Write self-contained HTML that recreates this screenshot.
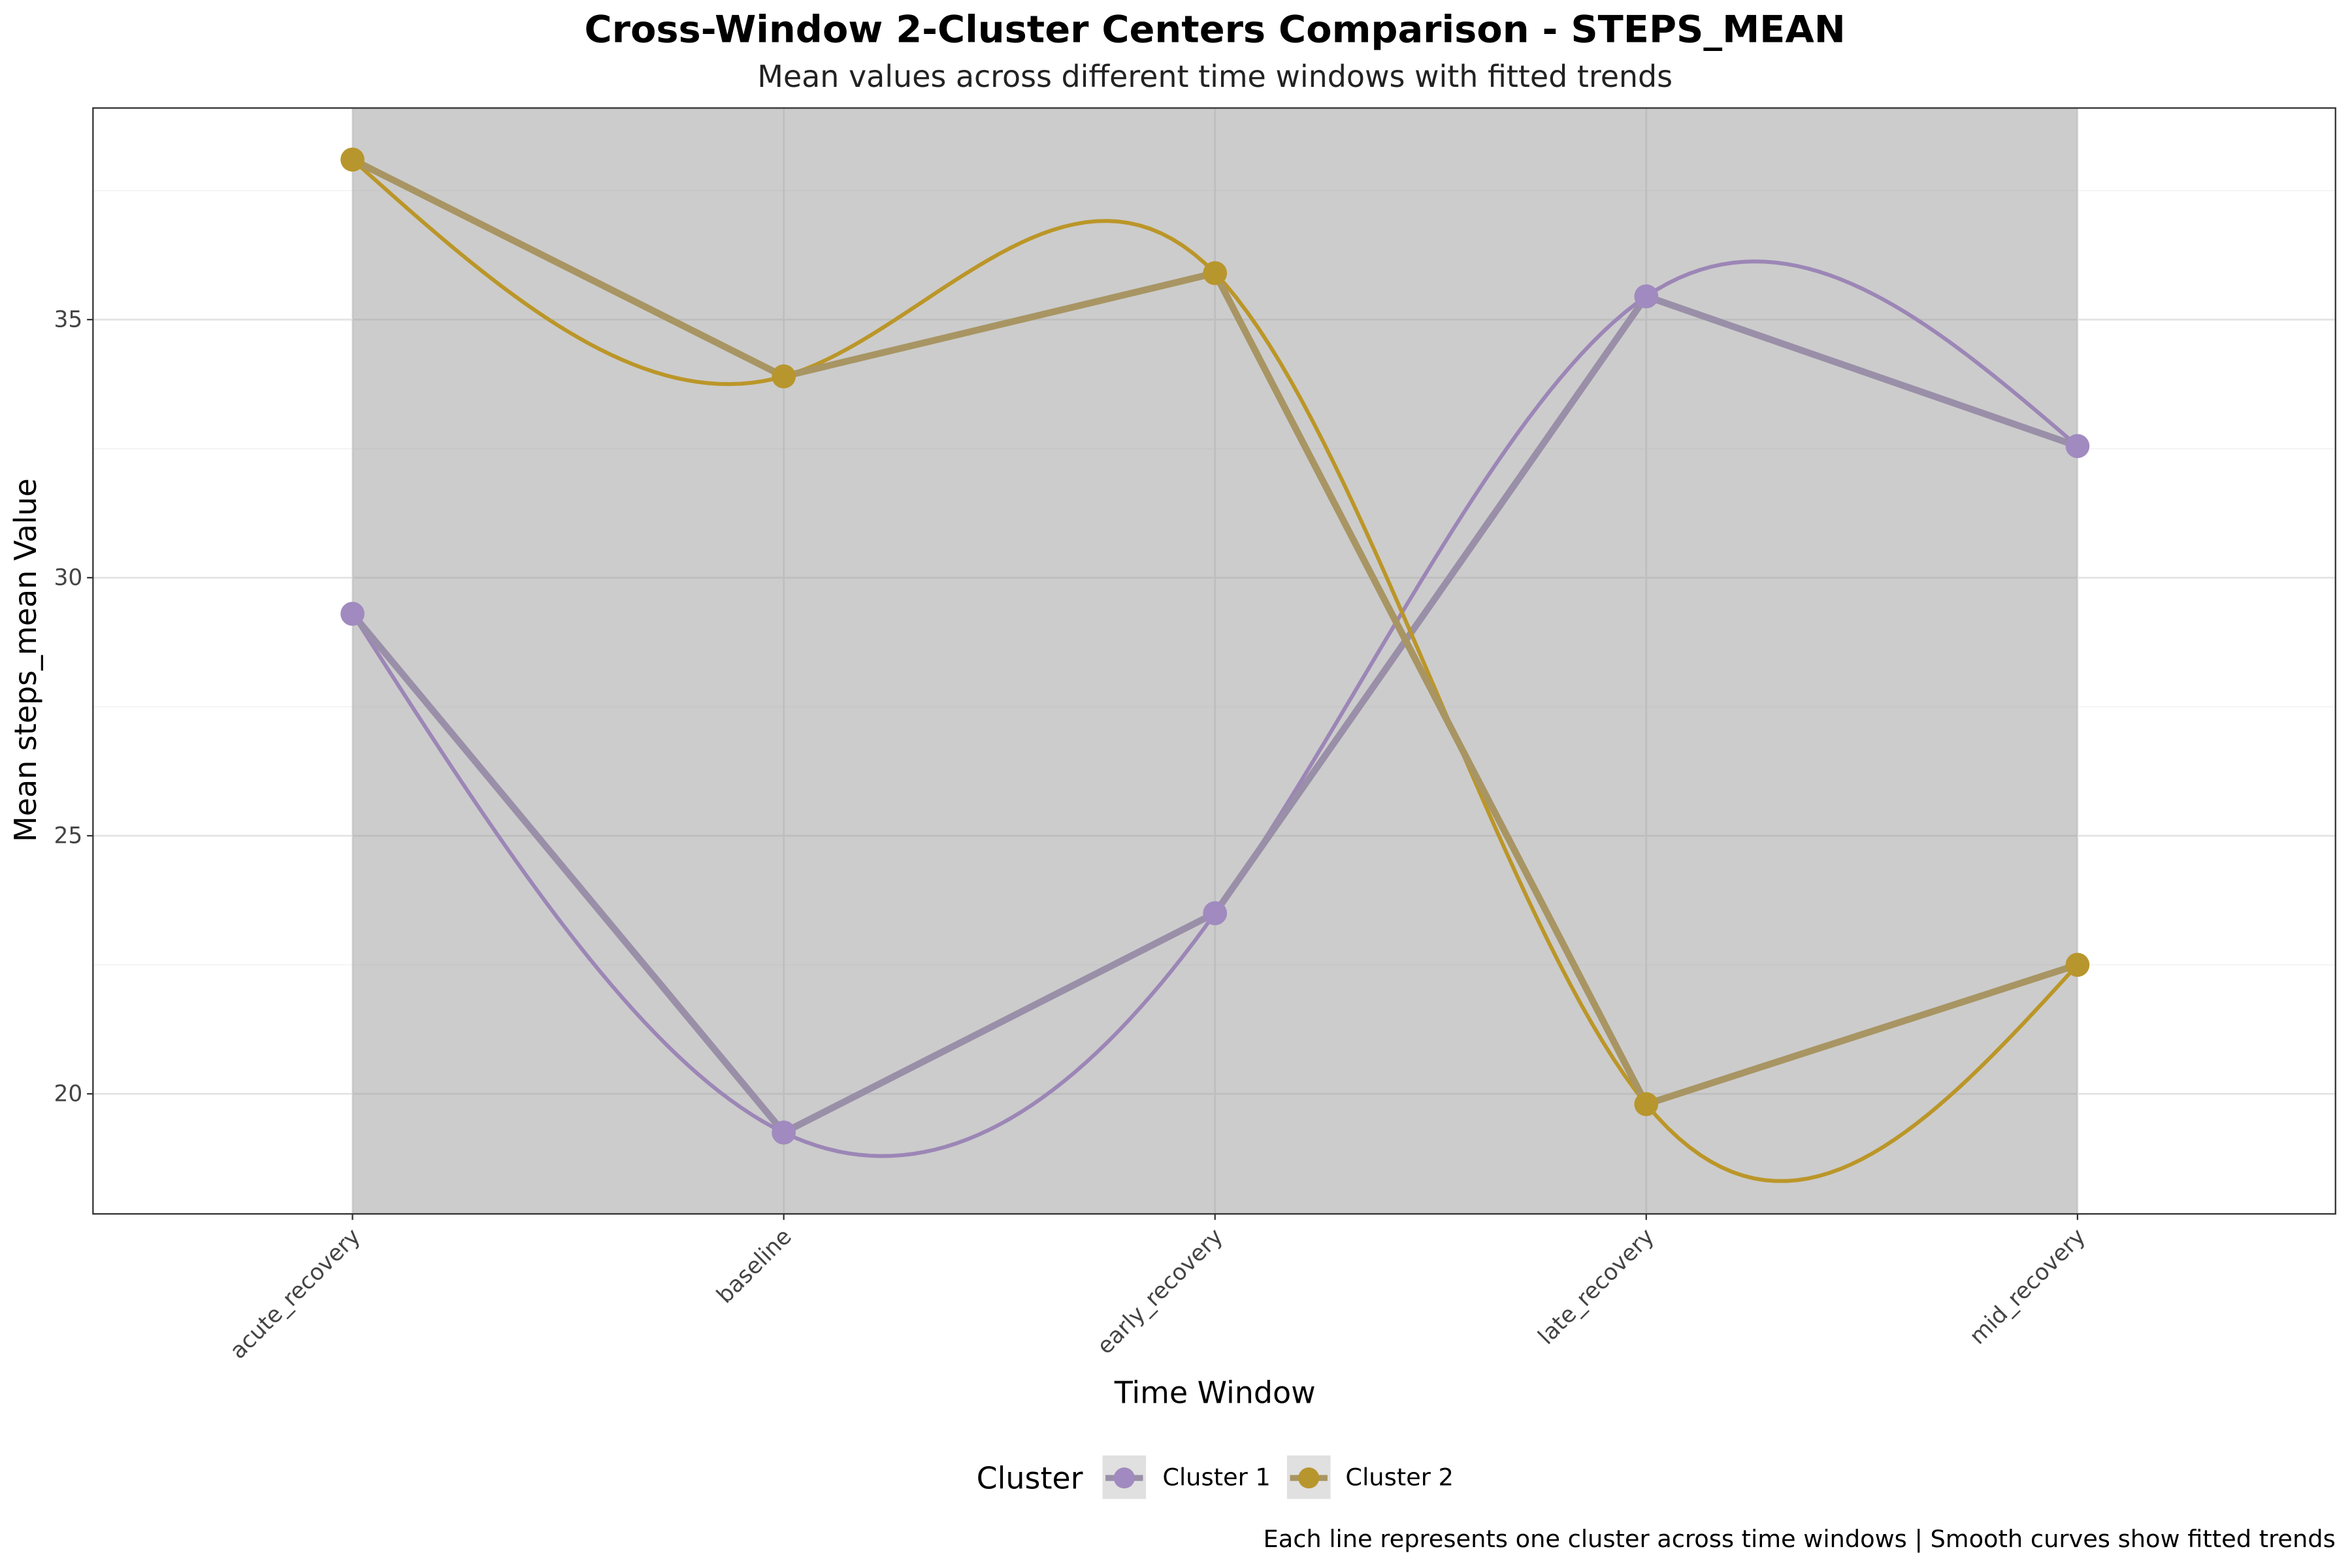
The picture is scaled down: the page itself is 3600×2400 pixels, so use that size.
<!DOCTYPE html>
<html><head><meta charset="utf-8"><style>
html,body{margin:0;padding:0;background:#fff;}
svg{display:block;font-family:"DejaVu Sans","Liberation Sans",sans-serif;}
</style></head><body>
<svg id="chart" width="3600" height="2400" viewBox="0 0 1568 1045" preserveAspectRatio="none" xmlns="http://www.w3.org/2000/svg">
<rect x="0" y="0" width="1568" height="1045" fill="#fff"/>
<text x="810" y="28" text-anchor="middle" font-size="25" font-weight="bold" fill="#000">Cross-Window 2-Cluster Centers Comparison - STEPS_MEAN</text>
<text x="810" y="58" text-anchor="middle" font-size="20" fill="#222">Mean values across different time windows with fitted trends</text>
<g id="grid"></g>
<g id="marks"></g>
<rect x="62" y="72" width="1495" height="737" fill="none" stroke="#333" stroke-width="1"/>
<g id="axes"></g>
<text x="810" y="935" text-anchor="middle" font-size="20" fill="#000">Time Window</text>
<text transform="translate(24,440) rotate(-90)" text-anchor="middle" font-size="20" fill="#000">Mean steps_mean Value</text>
<g>
<text x="651" y="992" font-size="20" fill="#000">Cluster</text>
<g>
<rect x="735" y="970" width="29" height="29" fill="#e0e0e0"/>
<line x1="737" y1="985" x2="762" y2="985" stroke="#9a8fa8" stroke-width="4"/>
<circle cx="749.5" cy="985" r="7" fill="#a08abf"/>
<text x="775" y="990" font-size="16" fill="#000">Cluster 1</text></g>
<g>
<rect x="858" y="970" width="29" height="29" fill="#e0e0e0"/>
<line x1="860" y1="985" x2="885" y2="985" stroke="#a89563" stroke-width="4"/>
<circle cx="872.5" cy="985" r="7" fill="#b8962e"/>
<text x="897" y="990" font-size="16" fill="#000">Cluster 2</text></g>
</g>
<text x="1557" y="1031" text-anchor="end" font-size="16" fill="#000">Each line represents one cluster across time windows | Smooth curves show fitted trends</text>
</svg>
<script>
const categories = ["acute_recovery","baseline","early_recovery","late_recovery","mid_recovery"];
const cluster1 = [29.3, 19.25, 23.5, 35.45, 32.55];
const cluster2 = [38.1, 33.9, 35.9, 19.8, 22.5];
const yTicks = [20, 25, 30, 35];
const yMinor = [17.5, 22.5, 27.5, 32.5, 37.5];

const NS = "http://www.w3.org/2000/svg";
const PX0 = 62, PX1 = 1557, PY0 = 72, PY1 = 809;
function xs(i){ return 235 + i * (1385 - 235) / (categories.length - 1); }
function ys(v){ return 729 - (v - 20) * 34.4; }
function mk(tag, attrs, parent){
  const e = document.createElementNS(NS, tag);
  for (const k in attrs) e.setAttribute(k, attrs[k]);
  parent.appendChild(e); return e;
}
const grid = document.getElementById("grid");
const marks = document.getElementById("marks");
const axes = document.getElementById("axes");

mk("rect", {x:PX0, y:PY0, width:PX1-PX0, height:PY1-PY0, fill:"#fff"}, grid);
yMinor.forEach(v => { const y = ys(v); if (y>PY0 && y<PY1) { const l = mk("line",{x1:PX0,x2:PX1,y1:y,y2:y,stroke:"#f2f2f2","stroke-width":0.7},grid);
  
   }});
yTicks.forEach(v => { const y = ys(v);
  const l = mk("line",{x1:PX0,x2:PX1,y1:y,y2:y,stroke:"#e3e3e3","stroke-width":1.2},grid);
  
  
  mk("line",{x1:PX0-4,x2:PX0,y1:y,y2:y,stroke:"#333","stroke-width":1},axes);
  const t = mk("text",{x:PX0-7,y:y+5,"text-anchor":"end","font-size":15,fill:"#444"},axes);
  t.textContent = v;
  
  
});
categories.forEach((c,i) => { const x = xs(i);
  const l = mk("line",{x1:x,x2:x,y1:PY0,y2:PY1,stroke:"#e3e3e3","stroke-width":1.2},grid);
  
  
  mk("line",{x1:x,x2:x,y1:PY1,y2:PY1+4,stroke:"#333","stroke-width":1},axes);
  const t = mk("text",{transform:`translate(${x+6},${PY1+16}) rotate(-45)`,"text-anchor":"end","font-size":15,fill:"#444"},axes);
  t.textContent = c;
  
  
});
const shade = mk("rect",{x:xs(0),y:PY0,width:xs(categories.length-1)-xs(0),height:PY1-PY0,fill:"#9a9a9a","fill-opacity":0.5},marks);



function spline(vals){
  const n = vals.length, M = new Array(n).fill(0);
  const a=[],b=[],c=[],d=[];
  for (let i=1;i<n-1;i++){ a.push(1); b.push(4); c.push(1); d.push(6*(vals[i+1]-2*vals[i]+vals[i-1])); }
  const m = d.length;
  for (let i=1;i<m;i++){ const w=a[i]/b[i-1]; b[i]-=w*c[i-1]; d[i]-=w*d[i-1]; }
  const sol = new Array(m);
  for (let i=m-1;i>=0;i--) sol[i]=(d[i]-(i<m-1?c[i]*sol[i+1]:0))/b[i];
  for (let i=0;i<m;i++) M[i+1]=sol[i];
  const pts=[];
  for (let i=0;i<n-1;i++) for (let k=0;k<=40;k++){
    const t=k/40, A=1-t, B=t;
    const v = A*vals[i]+B*vals[i+1]+((A*A*A-A)*M[i]+(B*B*B-B)*M[i+1])/6;
    pts.push([xs(i+t), ys(v)]);
  }
  return pts;
}
function drawSeries(vals, name, lineCol, smoothCol, ptCol){
  const sp = spline(vals);
  const s = mk("polyline",{points:sp.map(p=>p.join(",")).join(" "),fill:"none",stroke:smoothCol,"stroke-width":2.6},marks);
  
  
  const l = mk("polyline",{points:vals.map((v,i)=>xs(i)+","+ys(v)).join(" "),fill:"none",stroke:lineCol,"stroke-width":4.5,"stroke-linejoin":"round"},marks);
  
  
  vals.forEach((v,i)=>{
    const c = mk("circle",{cx:xs(i),cy:ys(v),r:8,fill:ptCol},marks);
    
    
  });
}
drawSeries(cluster1, "cluster-1", "#9a8fa8", "#9c86b6", "#a08abf");
drawSeries(cluster2, "cluster-2", "#a89563", "#bb9628", "#b8962e");
</script>
</body></html>
